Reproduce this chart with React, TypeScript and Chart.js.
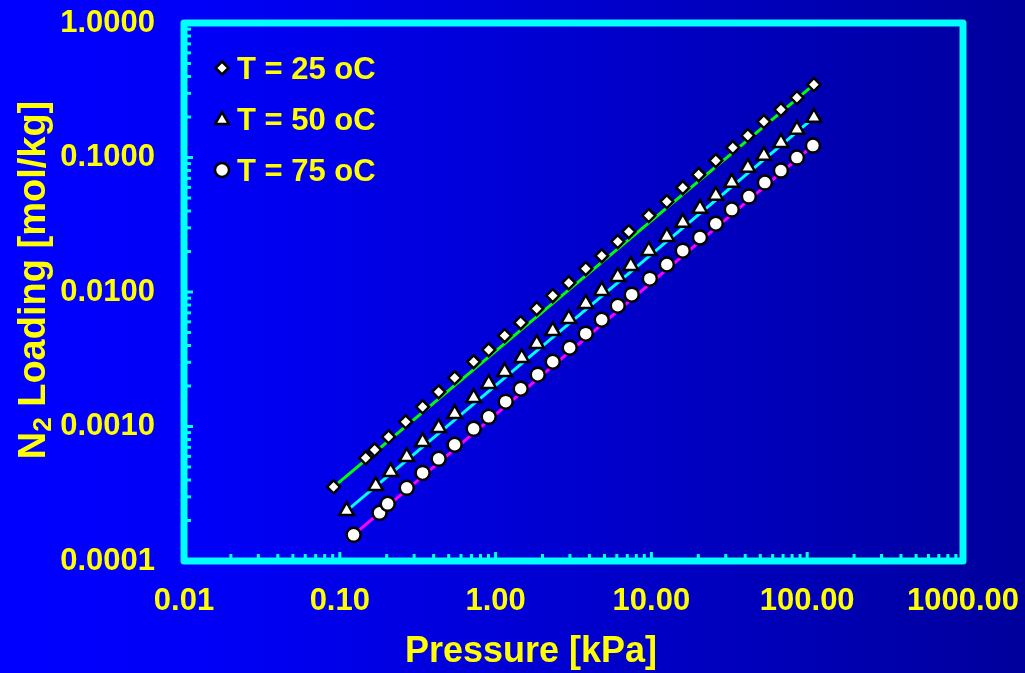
import React, { useEffect, useRef } from "react";
import { Chart, registerables } from "chart.js";

Chart.register(...registerables);

// ---------- data ----------
const seriesLabels = ["T = 25 oC", "T = 50 oC", "T = 75 oC"];

const pressure25 = [0.0912, 0.1466, 0.1673, 0.2056, 0.2647, 0.34, 0.431, 0.546, 0.723, 0.903, 1.143, 1.449, 1.836, 2.327, 2.948, 3.79, 4.8, 6.08, 7.16, 9.62, 12.56, 15.9, 20.1, 25.9, 33.3, 41.6, 52.7, 67.8, 85.9, 110.4];
const loading25 = [0.000356, 0.000585, 0.000671, 0.000838, 0.001084, 0.0014, 0.00181, 0.0023, 0.00303, 0.00372, 0.00473, 0.00591, 0.00751, 0.00938, 0.0117, 0.0149, 0.0186, 0.0237, 0.0281, 0.037, 0.047, 0.0597, 0.0746, 0.0948, 0.1186, 0.1455, 0.185, 0.227, 0.279, 0.3485];

const pressure50 = [0.1106, 0.17, 0.212, 0.269, 0.34, 0.431, 0.546, 0.723, 0.903, 1.143, 1.471, 1.836, 2.327, 2.948, 3.79, 4.8, 6.08, 7.37, 9.62, 12.56, 15.9, 20.5, 25.9, 32.8, 41.6, 52.7, 67.8, 85.9, 110.4];
const loading50 = [0.000236, 0.000362, 0.00046, 0.000595, 0.000769, 0.000978, 0.001243, 0.001635, 0.00208, 0.00255, 0.00324, 0.00412, 0.00515, 0.00633, 0.00818, 0.01023, 0.013, 0.0157, 0.0203, 0.0258, 0.0328, 0.0417, 0.0521, 0.0651, 0.0841, 0.1033, 0.129, 0.1613, 0.198];

const pressure75 = [0.1226, 0.18, 0.203, 0.269, 0.34, 0.431, 0.546, 0.723, 0.903, 1.161, 1.449, 1.864, 2.327, 2.99, 3.79, 4.8, 6.08, 7.48, 9.77, 12.56, 15.9, 20.5, 25.9, 32.8, 42.2, 53.5, 67.8, 85.9, 108.8];
const loading75 = [0.0001565, 0.000228, 0.000266, 0.00035, 0.000452, 0.000575, 0.000731, 0.000961, 0.00118, 0.00153, 0.00191, 0.00243, 0.00303, 0.00385, 0.0049, 0.00622, 0.00791, 0.00955, 0.01256, 0.016, 0.0203, 0.0254, 0.0322, 0.041, 0.0512, 0.0651, 0.0799, 0.0998, 0.1226];

// fitted straight lines (end points)
const fitPressure25 = [0.0912, 110.4];
const fitLoading25 = [0.000356, 0.3485];
const fitPressure50 = [0.1106, 110.4];
const fitLoading50 = [0.000236, 0.198];
const fitPressure75 = [0.1226, 108.8];
const fitLoading75 = [0.0001565, 0.1226];

const xTickValues = [0.01, 0.1, 1, 10, 100, 1000];
const xTickLabels = ["0.01", "0.10", "1.00", "10.00", "100.00", "1000.00"];
const yTickValues = [0.0001, 0.001, 0.01, 0.1, 1];
const yTickLabels = ["0.0001", "0.0010", "0.0100", "0.1000", "1.0000"];

const xTitle = "Pressure [kPa]";
const yTitleMain = "N";
const yTitleSub = "2";
const yTitleRest = " Loading [mol/kg]";

// ---------- styles ----------
const YELLOW = "#ffff00";
const CYAN = "#00ffff";
const FONT = "'Liberation Sans', Arial, Helvetica, sans-serif";
const markerStyles = ["rectRot", "triangle", "circle"];
const markerRadius = [6.5, 8.5, 7];
const legendMarkerRadius = [6.5, 8, 7];
const markerBorder = 2.5;
const lineColors = ["#00ff00", "#00ffff", "#ff00ff"];

function toPoints(xs: number[], ys: number[]) {
  return xs.map((x, i) => ({ x, y: ys[i] }));
}

function drawMarker(ctx: CanvasRenderingContext2D, style: string, x: number, y: number, r: number) {
  ctx.beginPath();
  if (style === "rectRot") {
    ctx.moveTo(x, y - r);
    ctx.lineTo(x + r, y);
    ctx.lineTo(x, y + r);
    ctx.lineTo(x - r, y);
    ctx.closePath();
  } else if (style === "triangle") {
    for (let k = 0; k < 3; k++) {
      const a = (k * 2 * Math.PI) / 3;
      const px = x + Math.sin(a) * r;
      const py = y - Math.cos(a) * r;
      if (k === 0) ctx.moveTo(px, py);
      else ctx.lineTo(px, py);
    }
    ctx.closePath();
  } else {
    ctx.arc(x, y, r, 0, Math.PI * 2);
  }
  ctx.fillStyle = "#ffffff";
  ctx.fill();
  ctx.lineWidth = markerBorder;
  ctx.strokeStyle = "#000000";
  ctx.stroke();
}

const framePlugin = {
  id: "frameTicks",
  beforeDatasetsDraw(chart: any) {
    const { ctx, chartArea } = chart;
    const { left, right, top, bottom } = chartArea;
    const xs = chart.scales.x;
    const ys = chart.scales.y;
    ctx.save();
    ctx.strokeStyle = CYAN;
    ctx.fillStyle = CYAN;
    // ticks (inward)
    ctx.lineWidth = 3;
    ctx.lineCap = "butt";
    for (let d = 0; d < xTickValues.length; d++) {
      const base = xTickValues[d];
      for (let m = 1; m <= 9; m++) {
        const v = base * m;
        if (v > xTickValues[xTickValues.length - 1]) break;
        const px = xs.getPixelForValue(v);
        const len = m === 1 ? 9 : 7;
        ctx.beginPath();
        ctx.moveTo(px, bottom);
        ctx.lineTo(px, bottom - len);
        ctx.stroke();
      }
    }
    for (let d = 0; d < yTickValues.length; d++) {
      const base = yTickValues[d];
      for (let m = 1; m <= 9; m++) {
        const v = base * m;
        if (v > yTickValues[yTickValues.length - 1]) break;
        const py = ys.getPixelForValue(v);
        const len = m === 1 ? 9 : 7;
        ctx.beginPath();
        ctx.moveTo(left, py);
        ctx.lineTo(left + len, py);
        ctx.stroke();
      }
    }
    // frame
    ctx.lineWidth = 7;
    ctx.lineJoin = "round";
    ctx.strokeRect(left, top, right - left, bottom - top);
    ctx.restore();
  },
  afterDraw(chart: any) {
    const { ctx } = chart;
    ctx.save();
    // legend
    ctx.font = `bold 31px ${FONT}`;
    ctx.fillStyle = YELLOW;
    ctx.textAlign = "left";
    ctx.textBaseline = "alphabetic";
    const rowY = [68, 120, 170];
    const baseY = [79, 130, 181];
    for (let i = 0; i < seriesLabels.length; i++) {
      drawMarker(ctx, markerStyles[i], 222, rowY[i], legendMarkerRadius[i]);
      ctx.fillStyle = YELLOW;
      ctx.fillText(seriesLabels[i], 237, baseY[i]);
    }
    // x title
    ctx.font = `bold 36px ${FONT}`;
    ctx.textAlign = "center";
    ctx.fillText(xTitle, 531, 662);
    // y title (rotated)
    ctx.translate(45, 280);
    ctx.rotate(-Math.PI / 2);
    const bigFont = `bold 38px ${FONT}`;
    const smallFont = `bold 26px ${FONT}`;
    ctx.font = bigFont;
    const wMain = ctx.measureText(yTitleMain).width;
    const wRest = ctx.measureText(yTitleRest).width;
    ctx.font = smallFont;
    const wSub = ctx.measureText(yTitleSub).width;
    const total = wMain + wSub + wRest;
    let x0 = -total / 2;
    ctx.textAlign = "left";
    ctx.font = bigFont;
    ctx.fillText(yTitleMain, x0, 0);
    x0 += wMain;
    ctx.font = smallFont;
    ctx.fillText(yTitleSub, x0, 6);
    x0 += wSub;
    ctx.font = bigFont;
    ctx.fillText(yTitleRest, x0, 0);
    ctx.restore();
  },
};

export default function App() {
  const canvasRef = useRef<HTMLCanvasElement | null>(null);

  useEffect(() => {
    document.body.style.margin = "0";
    const canvas = canvasRef.current;
    if (!canvas) return;

    const scatterSets = [
      toPoints(pressure25, loading25),
      toPoints(pressure50, loading50),
      toPoints(pressure75, loading75),
    ].map((data, i) => ({
      label: seriesLabels[i],
      data,
      showLine: false,
      pointStyle: markerStyles[i],
      pointRadius: markerRadius[i],
      pointBackgroundColor: "#ffffff",
      pointBorderColor: "#000000",
      pointBorderWidth: markerBorder,
      order: 1,
    }));

    const fitSets = [
      toPoints(fitPressure25, fitLoading25),
      toPoints(fitPressure50, fitLoading50),
      toPoints(fitPressure75, fitLoading75),
    ].map((data, i) => ({
      label: "fit " + seriesLabels[i],
      data,
      showLine: true,
      borderColor: lineColors[i],
      borderWidth: 3,
      pointRadius: 0,
      order: 2,
    }));

    const chart = new Chart(canvas, {
      type: "scatter",
      data: { datasets: [...scatterSets, ...fitSets] as any },
      options: {
        animation: false,
        responsive: false,
        devicePixelRatio: 1,
        layout: { padding: { top: 23, right: 62, left: 0, bottom: 0 } },
        plugins: {
          legend: { display: false },
          tooltip: { enabled: false },
          title: { display: false },
        },
        scales: {
          x: {
            type: "logarithmic",
            min: 0.01,
            max: 1000,
            grid: { display: false, drawTicks: false },
            border: { display: false },
            afterBuildTicks: (s: any) => {
              s.ticks = xTickValues.map((v) => ({ value: v }));
            },
            afterFit: (s: any) => {
              s.height = 112;
              s.paddingLeft = 0;
              s.paddingRight = 0;
              s.paddingTop = 0;
              s.paddingBottom = 0;
            },
            ticks: {
              color: YELLOW,
              font: { family: FONT, size: 31, weight: "bold" },
              padding: 22,
              maxRotation: 0,
              autoSkip: false,
              callback: (_v: any, i: number) => xTickLabels[i],
            },
          },
          y: {
            type: "logarithmic",
            min: 0.0001,
            max: 1,
            grid: { display: false, drawTicks: false },
            border: { display: false },
            afterBuildTicks: (s: any) => {
              s.ticks = yTickValues.map((v) => ({ value: v }));
            },
            afterFit: (s: any) => {
              s.width = 184;
              s.paddingLeft = 0;
              s.paddingRight = 0;
              s.paddingTop = 0;
              s.paddingBottom = 0;
            },
            ticks: {
              color: YELLOW,
              font: { family: FONT, size: 31, weight: "bold" },
              padding: 29,
              autoSkip: false,
              callback: (_v: any, i: number) => yTickLabels[i],
            },
          },
        },
      } as any,
      plugins: [framePlugin],
    });

    return () => chart.destroy();
  }, []);

  return (
    <div
      style={{
        position: "absolute",
        left: 0,
        top: 0,
        width: 1025,
        height: 673,
        background: "linear-gradient(90deg, #0000ff 0%, #0000f8 20%, #00009c 100%)",
      }}
    >
      <canvas ref={canvasRef} width={1025} height={673} style={{ display: "block", width: 1025, height: 673 }} />
    </div>
  );
}
